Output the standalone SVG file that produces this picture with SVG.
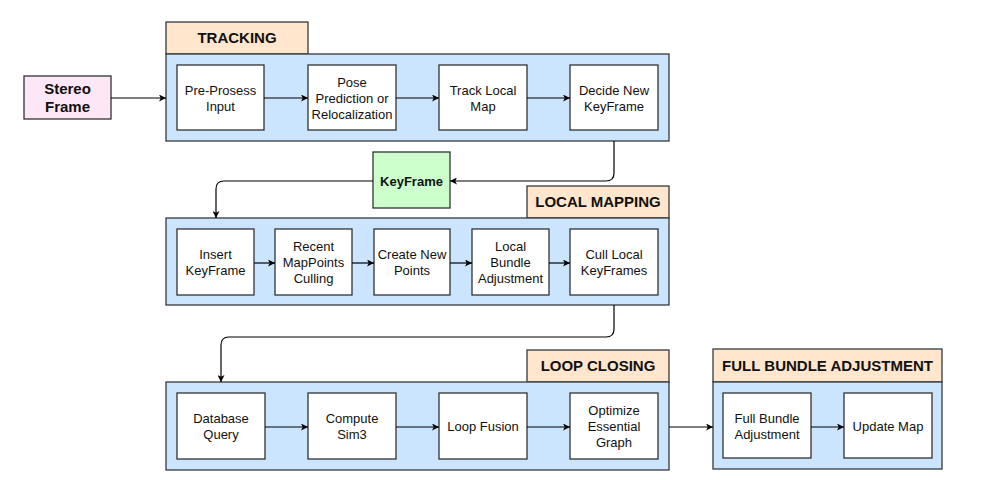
<svg xmlns="http://www.w3.org/2000/svg" width="982" height="480" viewBox="0 0 982 480">
<defs>
<marker id="ah" viewBox="0 0 10 10" refX="10" refY="5" markerWidth="7" markerHeight="7" markerUnits="userSpaceOnUse" orient="auto">
<path d="M0,0 L10,5 L0,10 L2.5,5 Z" fill="#000"/>
</marker>
<style>
.panel{fill:#cce5ff;stroke:#36393d;stroke-width:1.3}
.hdr{fill:#ffe6cc;stroke:#36393d;stroke-width:1.3}
.box{fill:#fff;stroke:#333;stroke-width:1.3}
.ht{font-family:"Liberation Sans",Arial,sans-serif;font-weight:bold;font-size:15px;fill:#111;text-anchor:middle}
.bt{font-family:"Liberation Sans",Arial,sans-serif;font-size:13px;fill:#111;text-anchor:middle}
.con{fill:none;stroke:#000;stroke-width:1.2;marker-end:url(#ah)}
</style>
</defs>
<rect width="982" height="480" fill="#fff"/>

<g id="stereo">
<rect x="24" y="76" width="87" height="43" fill="#fde6f5" stroke="#333" stroke-width="1.3"/>
<text class="ht" x="67.5" y="94">Stereo</text>
<text class="ht" x="67.5" y="112">Frame</text>
</g>

<g id="tracking">
<rect class="hdr" x="166" y="22" width="142" height="32"/>
<text class="ht" x="237" y="43">TRACKING</text>
<rect class="panel" x="166" y="54" width="503" height="87"/>
</g>
<g id="preprocess"><rect class="box" x="177" y="65" width="87" height="65"/><text class="bt" x="220.5" y="95">Pre-Prosess</text><text class="bt" x="220.5" y="111">Input</text></g>
<g id="pose"><rect class="box" x="308" y="65" width="88" height="65"/><text class="bt" x="352" y="87">Pose</text><text class="bt" x="352" y="103">Prediction or</text><text class="bt" x="352" y="119">Relocalization</text></g>
<g id="tracklocal"><rect class="box" x="439" y="65" width="88" height="65"/><text class="bt" x="483" y="95">Track Local</text><text class="bt" x="483" y="111">Map</text></g>
<g id="decide"><rect class="box" x="570" y="65" width="88" height="65"/><text class="bt" x="614" y="95">Decide New</text><text class="bt" x="614" y="111">KeyFrame</text></g>

<g id="keyframe">
<rect x="373" y="152" width="77" height="56" fill="#ccffcc" stroke="#333" stroke-width="1.3"/>
<text class="bt" font-weight="bold" x="411.5" y="185.5">KeyFrame</text>
</g>

<g id="localmapping">
<rect class="hdr" x="527" y="186" width="142" height="32"/>
<text class="ht" x="598" y="207">LOCAL MAPPING</text>
<rect class="panel" x="166" y="218" width="503" height="87"/>
</g>
<g id="insert"><rect class="box" x="177" y="229" width="77" height="66"/><text class="bt" x="215.5" y="259">Insert</text><text class="bt" x="215.5" y="275">KeyFrame</text></g>
<g id="recent"><rect class="box" x="275" y="229" width="77" height="66"/><text class="bt" x="313.5" y="251">Recent</text><text class="bt" x="313.5" y="267">MapPoints</text><text class="bt" x="313.5" y="283">Culling</text></g>
<g id="create"><rect class="box" x="374" y="229" width="76" height="66"/><text class="bt" x="412" y="259">Create New</text><text class="bt" x="412" y="275">Points</text></g>
<g id="localba"><rect class="box" x="472" y="229" width="77" height="66"/><text class="bt" x="510.5" y="251">Local</text><text class="bt" x="510.5" y="267">Bundle</text><text class="bt" x="510.5" y="283">Adjustment</text></g>
<g id="cull"><rect class="box" x="570" y="229" width="88" height="66"/><text class="bt" x="614" y="259">Cull Local</text><text class="bt" x="614" y="275">KeyFrames</text></g>

<g id="loopclosing">
<rect class="hdr" x="527" y="350" width="142" height="32"/>
<text class="ht" x="598" y="371">LOOP CLOSING</text>
<rect class="panel" x="166" y="382" width="503" height="88"/>
</g>
<g id="dbquery"><rect class="box" x="177" y="393" width="88" height="66"/><text class="bt" x="221" y="423">Database</text><text class="bt" x="221" y="439">Query</text></g>
<g id="sim3"><rect class="box" x="308" y="393" width="88" height="66"/><text class="bt" x="352" y="423">Compute</text><text class="bt" x="352" y="439">Sim3</text></g>
<g id="fusion"><rect class="box" x="439" y="393" width="88" height="66"/><text class="bt" x="483" y="431">Loop Fusion</text></g>
<g id="optimize"><rect class="box" x="570" y="393" width="88" height="66"/><text class="bt" x="614" y="415">Optimize</text><text class="bt" x="614" y="431">Essential</text><text class="bt" x="614" y="447">Graph</text></g>

<g id="fullba">
<rect class="hdr" x="713" y="349" width="229" height="33"/>
<text class="ht" x="827.5" y="371">FULL BUNDLE ADJUSTMENT</text>
<rect class="panel" x="713" y="382" width="229" height="87"/>
</g>
<g id="fullbabox"><rect class="box" x="723" y="393" width="88" height="65"/><text class="bt" x="767" y="423">Full Bundle</text><text class="bt" x="767" y="439">Adjustment</text></g>
<g id="updatemap"><rect class="box" x="844" y="393" width="88" height="65"/><text class="bt" x="888" y="431">Update Map</text></g>

<g id="connectors">
<path class="con" d="M111,98 H166"/>
<path class="con" d="M264,98 H308"/>
<path class="con" d="M396,98 H439"/>
<path class="con" d="M527,98 H570"/>
<path class="con" d="M614,141 V173 Q614,181 606,181 H450"/>
<path class="con" d="M373,181 H224 Q216,181 216,189 V218"/>
<path class="con" d="M254,263 H275"/>
<path class="con" d="M352,263 H374"/>
<path class="con" d="M450,263 H472"/>
<path class="con" d="M549,263 H570"/>
<path class="con" d="M614,305 V329 Q614,337 606,337 H229 Q221,337 221,345 V382"/>
<path class="con" d="M265,427 H308"/>
<path class="con" d="M396,427 H439"/>
<path class="con" d="M527,427 H570"/>
<path class="con" d="M669,427 H713"/>
<path class="con" d="M811,427 H844"/>
</g>
</svg>
